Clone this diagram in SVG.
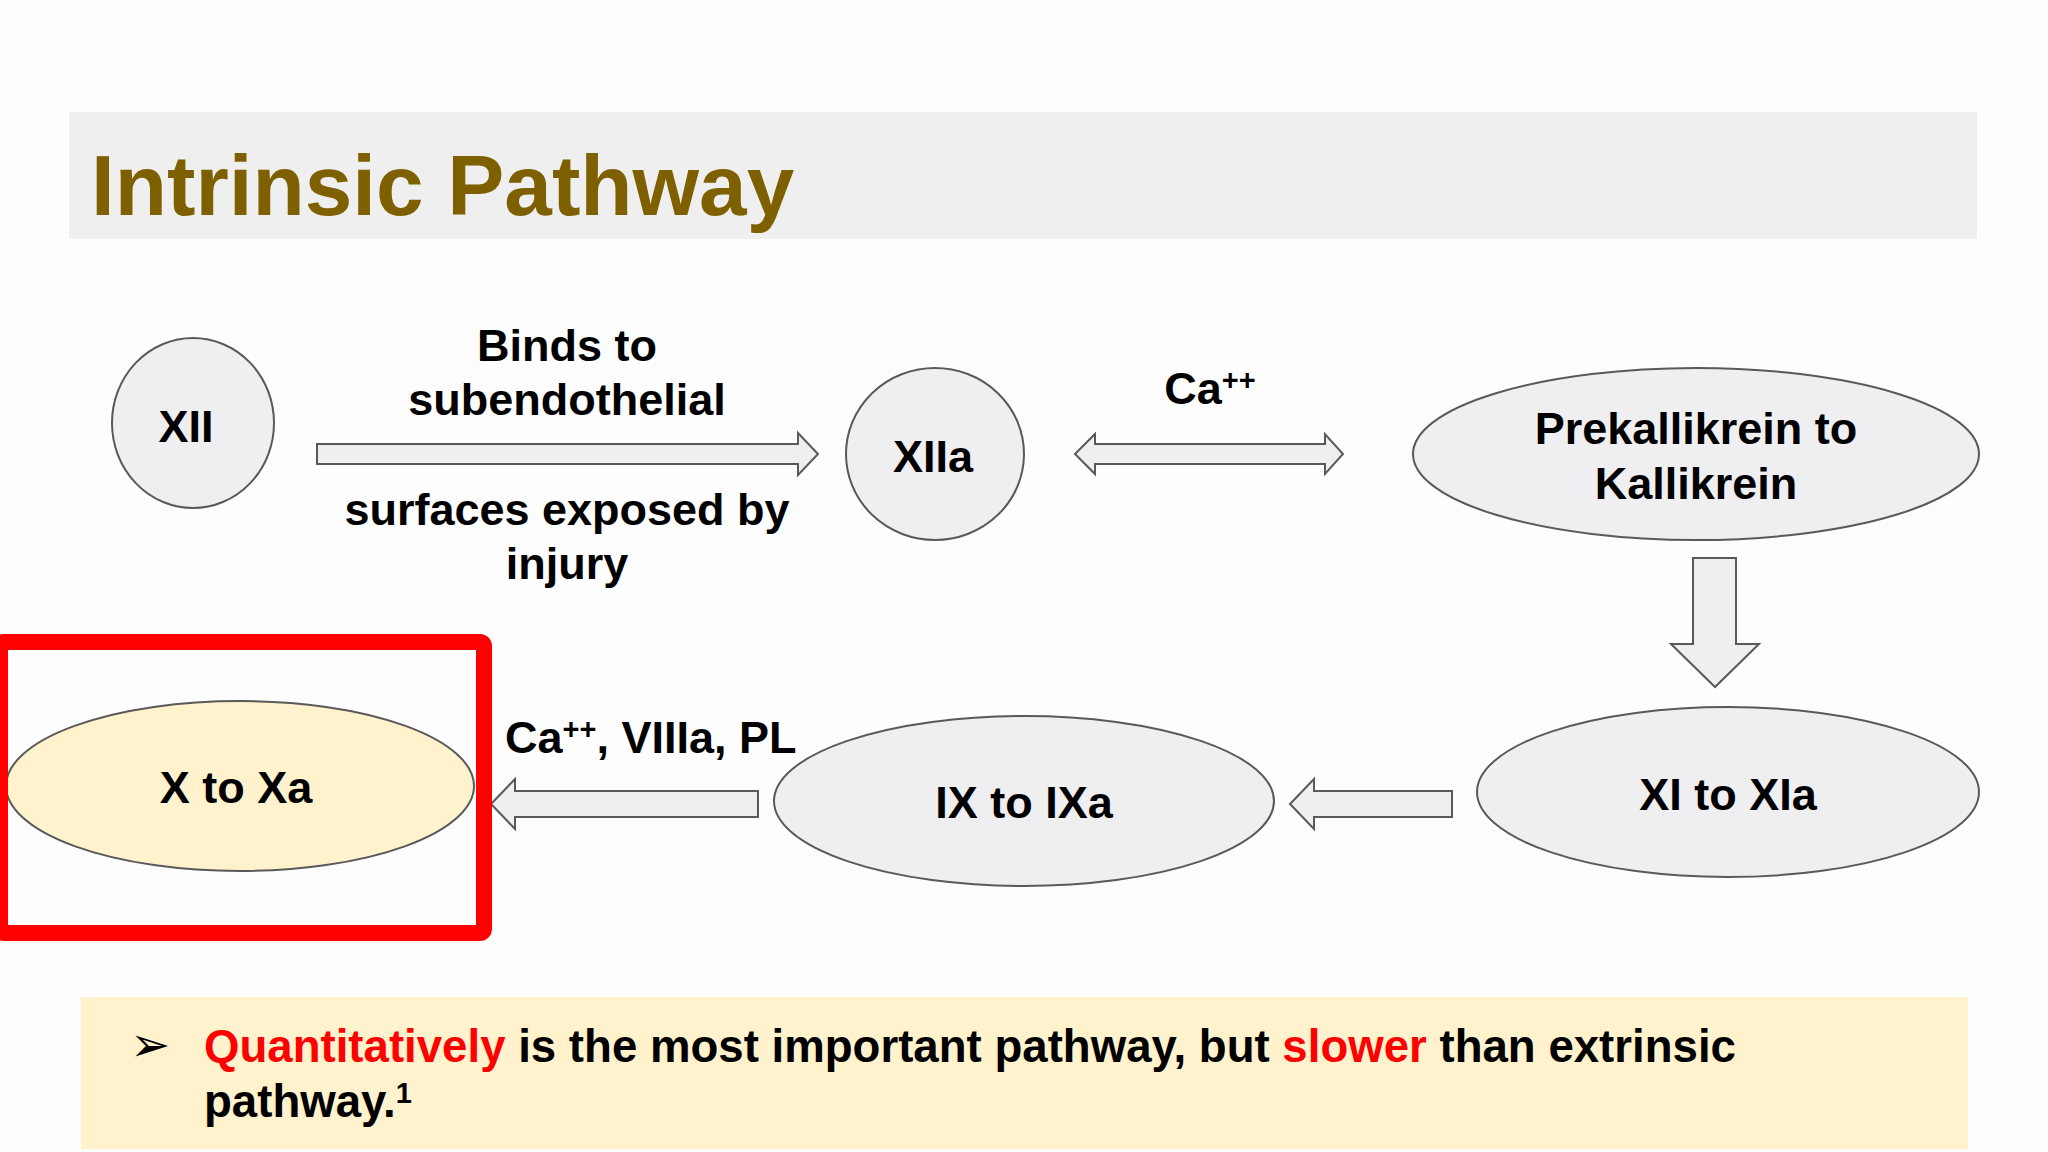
<svg xmlns="http://www.w3.org/2000/svg" width="2048" height="1152" viewBox="0 0 2048 1152">
<style>
  .node { fill: #efeef1; stroke: #595959; stroke-width: 2; }
  .nodeY { fill: #fff2cc; stroke: #595959; stroke-width: 2; }
  .arrow { fill: #efeef1; stroke: #595959; stroke-width: 2; stroke-linejoin: miter; }
  .t { font-family: "Liberation Sans", Arial, sans-serif; font-weight: bold; font-size: 45px; fill: #000; }
  .n { font-size: 45.6px; }
  .c { text-anchor: middle; }
  .red { fill: #ff0000; }
</style>
<rect x="0" y="0" width="2048" height="1152" fill="#fdfdfd"/>

<g id="title">
  <rect x="69" y="112" width="1908" height="127" fill="#efefef"/>
  <text x="91" y="215" font-family="Liberation Sans, Arial, sans-serif" font-weight="bold" font-size="85.5" fill="#7f6000">Intrinsic Pathway</text>
</g>

<g id="connectors">
  <path class="arrow" d="M317,444 L798,444 L798,433 L818,454 L798,475 L798,464 L317,464 Z"/>
  <path class="arrow" d="M1075,454 L1095,434 L1095,444 L1325,444 L1325,434 L1343,454 L1325,474 L1325,464 L1095,464 L1095,474 Z"/>
  <path class="arrow" d="M1693,558 L1736,558 L1736,644 L1759,644 L1715,687 L1671,644 L1693,644 Z"/>
  <path class="arrow" d="M1452,791 L1314,791 L1314,779 L1290,804 L1314,829 L1314,817 L1452,817 Z"/>
  <path class="arrow" d="M758,791 L515,791 L515,779 L491,804 L515,829 L515,817 L758,817 Z"/>
  <text class="t c" x="567" y="361">Binds to</text>
  <text class="t c" x="567" y="415">subendothelial</text>
  <text class="t c" x="567" y="525">surfaces exposed by</text>
  <text class="t c" x="567" y="579">injury</text>
  <text class="t c" x="1210" y="404">Ca<tspan font-size="29" dy="-14">++</tspan></text>
  <text class="t" x="505" y="753">Ca<tspan font-size="29" dy="-14">++</tspan><tspan dy="14">, VIIIa, PL</tspan></text>
</g>

<g id="node-xii">
  <ellipse class="node" cx="193" cy="423" rx="81" ry="85"/>
  <text class="t c" x="186" y="442">XII</text>
</g>

<g id="node-xiia">
  <ellipse class="node" cx="935" cy="454" rx="89" ry="86"/>
  <text class="t c" x="933" y="472">XIIa</text>
</g>

<g id="node-prekallikrein">
  <ellipse class="node" cx="1696" cy="454" rx="283" ry="86"/>
  <text class="t c" x="1696" y="444">Prekallikrein to</text>
  <text class="t c" x="1696" y="499">Kallikrein</text>
</g>

<g id="node-xi">
  <ellipse class="node" cx="1728" cy="792" rx="251" ry="85"/>
  <text class="t c" x="1728" y="810">XI to XIa</text>
</g>

<g id="node-ix">
  <ellipse class="node" cx="1024" cy="801" rx="250" ry="85"/>
  <text class="t c" x="1024" y="818">IX to IXa</text>
</g>

<g id="node-x">
  <ellipse class="nodeY" cx="240" cy="786" rx="234" ry="85"/>
  <text class="t c" x="236" y="803">X to Xa</text>
</g>

<g id="highlight">
  <rect x="0" y="642" width="484" height="291" rx="4" fill="none" stroke="#ff0000" stroke-width="16"/>
</g>

<g id="note">
  <rect x="81" y="997" width="1887" height="152" fill="#fff2cc"/>
  <text x="130" y="1061" font-family="DejaVu Sans, sans-serif" font-size="48" fill="#000">➢</text>
  <text class="t n" x="204" y="1062"><tspan class="red">Quantitatively</tspan> is the most important pathway, but <tspan class="red">slower</tspan> than extrinsic</text>
  <text class="t n" x="204" y="1117">pathway.<tspan font-size="29" dy="-14">1</tspan></text>
</g>
</svg>
